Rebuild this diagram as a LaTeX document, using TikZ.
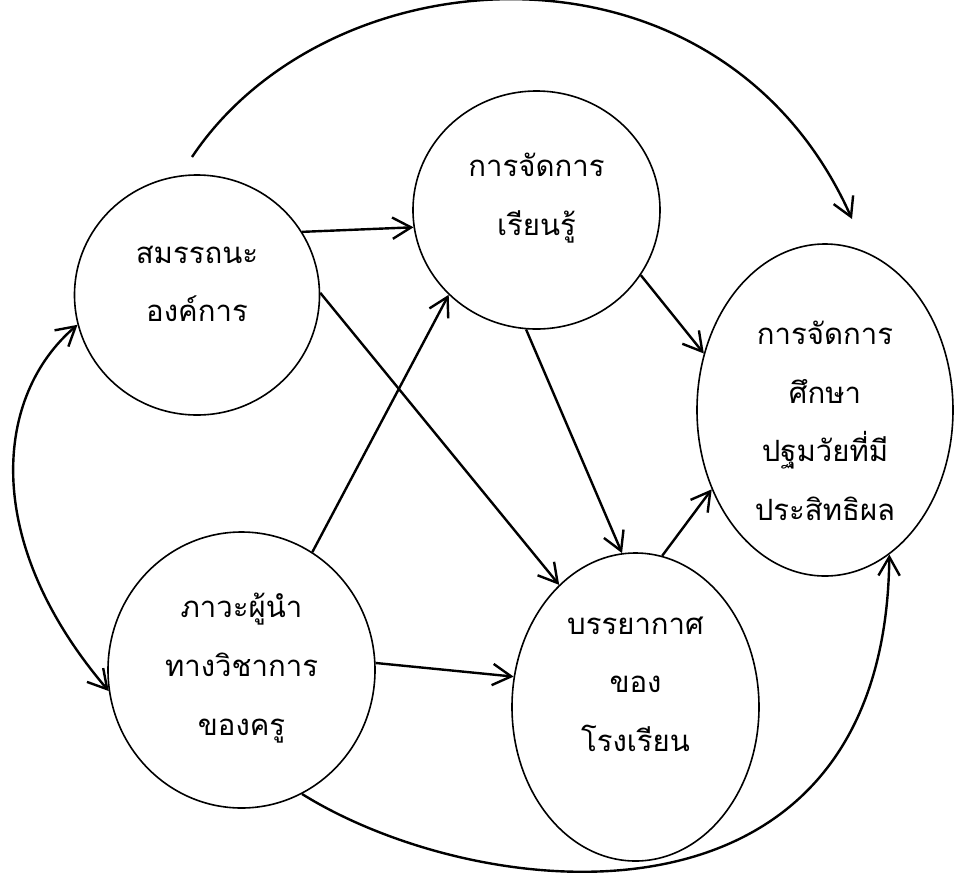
\documentclass[tikz,border=0pt]{standalone}
\usepackage{fontspec}
\newfontfamily\thaifont[Script=Thai]{Loma}
\usetikzlibrary{shapes.geometric, arrows.meta}
\tikzstyle{bubble} = [ellipse, draw, line width=1.2pt, inner sep=0pt]
\tikzstyle{link} = [line width=1.8pt, -{Straight Barb[length=14pt, width=16pt, line width=1.8pt]}]
\tikzset{
	txt/.style={align=center, font=\thaifont\fontsize{22}{44}\selectfont},
	both/.style={link, {Straight Barb[length=14pt, width=16pt, line width=1.8pt]}-{Straight Barb[length=14pt, width=16pt, line width=1.8pt]}},
}

\begin{document}
\begin{tikzpicture}[x=0.75pt, y=-0.75pt]

\useasboundingbox[fill=white] (0,0) rectangle (979,876);

% bubbles
\node [bubble, minimum width=183.75pt, minimum height=180pt] at (197,295) (A) {};
\node [bubble, minimum width=185.25pt, minimum height=178.5pt] at (536.5,210) (B) {};
\node [bubble, minimum width=192pt, minimum height=249pt] at (825,410) (C) {};
\node [bubble, minimum width=200.25pt, minimum height=207pt] at (241.5,670) (D) {};
\node [bubble, minimum width=185.25pt, minimum height=231pt] at (635.5,707) (E) {};

% texts
\node [txt] at (197,284) (At) {สมรรถนะ\\องค์การ};
\node [txt] at (536.5,198) (Bt) {การจัดการ\\เรียนรู้};
\node [txt] at (825,421) (Ct) {การจัดการ\\ศึกษา\\ปฐมวัยที่มี\\ประสิทธิผล};
\node [txt] at (241.5,668) (Dt) {ภาวะผู้นำ\\ทางวิชาการ\\ของครู};
\node [txt] at (635.5,684) (Et) {บรรยากาศ\\ของ\\โรงเรียน};

\coordinate (top start) at (192,157);
\coordinate (top end) at (852,219);

\draw [link] (A.31) -- (B.188);
\draw [link] (A.1) -- (E.122);
\draw [link] (B.-32) -- (C.155);
\draw [link] (B.265) -- (E.95);
\draw [link] (E.80) -- (C.215);
\draw [link] (D.59) -- (B.224);
\draw [link] (D.3) -- (E.166);
\draw [both] (A.194) .. controls (-5,395) and (-20,540) .. (D.189);
\draw [link] (top start) .. controls (330,-50) and (720,-76) .. (top end);
\draw [link] (D.-64) .. controls (480,905) and (885,950) .. (C.-66);

\end{tikzpicture}
\end{document}
